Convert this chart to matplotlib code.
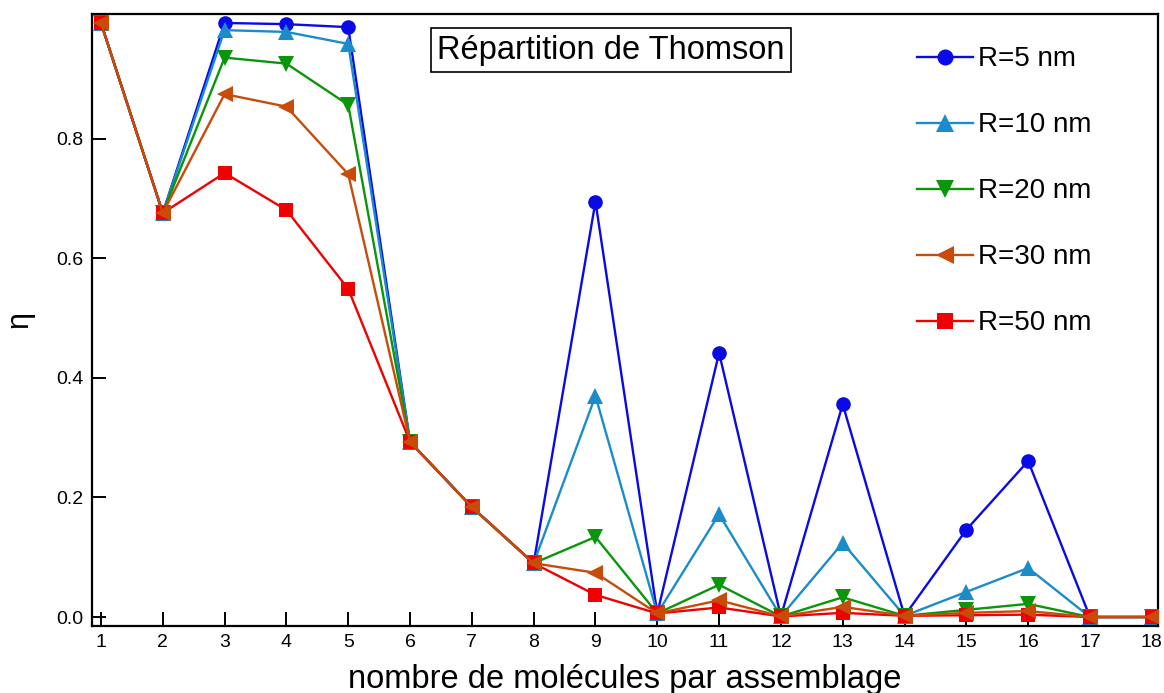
import matplotlib
matplotlib.use("Agg")
import matplotlib.pyplot as plt

plt.rcParams['font.family'] = ['Liberation Sans', 'DejaVu Sans']

n = list(range(1, 19))

eta_5nm = [0.994, 0.676, 0.994, 0.992, 0.987, 0.293, 0.184, 0.090, 0.695, 0.006,
           0.442, 0.001, 0.356, 0.002, 0.146, 0.261, 0.000, 0.000]
eta_10nm = [0.994, 0.676, 0.982, 0.979, 0.959, 0.293, 0.184, 0.090, 0.370, 0.006,
            0.172, 0.001, 0.124, 0.002, 0.042, 0.082, 0.000, 0.000]
eta_20nm = [0.994, 0.676, 0.936, 0.926, 0.857, 0.293, 0.184, 0.090, 0.134, 0.006,
            0.054, 0.001, 0.033, 0.002, 0.012, 0.022, 0.000, 0.000]
eta_30nm = [0.994, 0.676, 0.875, 0.854, 0.741, 0.293, 0.184, 0.090, 0.074, 0.006,
            0.028, 0.001, 0.017, 0.002, 0.007, 0.010, 0.000, 0.000]
eta_50nm = [0.994, 0.676, 0.743, 0.681, 0.549, 0.293, 0.184, 0.090, 0.037, 0.006,
            0.016, 0.001, 0.007, 0.002, 0.003, 0.004, 0.000, 0.000]

fig = plt.figure(figsize=(11.64, 6.93), dpi=100)
ax = fig.add_axes([0.079, 0.0967, 0.9158, 0.8831])

# zorder: orange triangles sit on top of the red squares
series = [
    ("R=5 nm", eta_5nm, "#0A0AE6", "o", 10.5, 1),
    ("R=10 nm", eta_10nm, "#1A8CCC", "^", 11.5, 2),
    ("R=20 nm", eta_20nm, "#0A960A", "v", 11.5, 3),
    ("R=30 nm", eta_30nm, "#C84B0A", "<", 11.5, 5),
    ("R=50 nm", eta_50nm, "#F00000", "s", 10.5, 4),
]
for label, vals, col, mk, ms, z in series:
    ax.plot(n, vals, color=col, marker=mk, markersize=ms, linewidth=1.7,
            markeredgewidth=0, label=label, zorder=z)

ax.set_xlim(0.854, 18.1)
ax.set_ylim(-0.015, 1.009)
ax.set_xticks(n)
ax.set_yticks([0.0, 0.2, 0.4, 0.6, 0.8])
ax.set_yticklabels(["0.0", "0.2", "0.4", "0.6", "0.8"])
ax.tick_params(direction='in', length=10, width=1.4, labelsize=14, pad=6)
for s in ax.spines.values():
    s.set_linewidth(1.6)

ax.set_xlabel("nombre de molécules par assemblage", fontsize=23.5, labelpad=9)
ax.set_ylabel("η", fontsize=22, labelpad=16)

ax.text(0.487, 0.941, "Répartition de Thomson", transform=ax.transAxes,
        ha='center', va='center', fontsize=23.5,
        bbox=dict(boxstyle='square,pad=0.2', facecolor='white', edgecolor='black', linewidth=1.2))

ax.legend(loc='upper left', bbox_to_anchor=(0.774, 0.947), frameon=False,
          fontsize=20, handlelength=2.0, handletextpad=0.2, labelspacing=1.44,
          borderpad=0, borderaxespad=0, markerscale=1.1)

fig.savefig("out.png", dpi=100)
